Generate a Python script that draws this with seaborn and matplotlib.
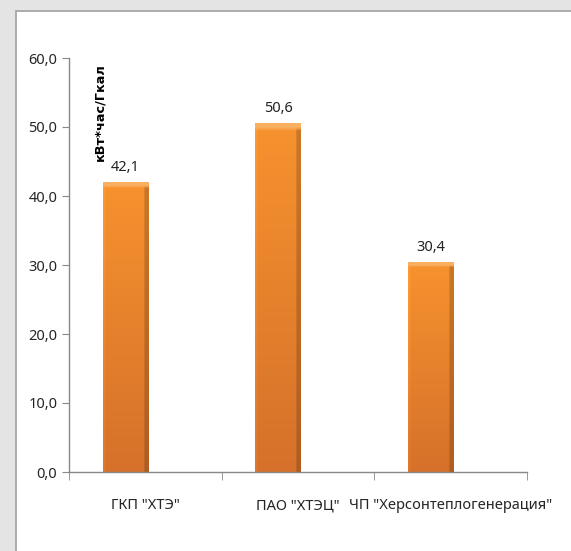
import matplotlib
matplotlib.use("Agg")
import matplotlib.pyplot as plt
import matplotlib.patches as mpatches
import matplotlib.colors as mcolors
import numpy as np
import seaborn as sns
import pandas as pd

companies = ['ГКП "ХТЭ"', 'ПАО "ХТЭЦ"', 'ЧП "Херсонтеплогенерация"']
values = [42.1, 50.6, 30.4]
unit_label = "кВт*час/Гкал"
y_ticks = [0, 10, 20, 30, 40, 50, 60]


def bar_shading(ax, patch):
    # cylinder-like shading clipped to the bar
    x0, y0 = patch.get_x(), patch.get_y()
    w, h = patch.get_width(), patch.get_height()
    top = np.array(mcolors.to_rgb("#F7922F"))
    bottom = np.array(mcolors.to_rgb("#D5712A"))
    ny, nx = 100, 40
    t = np.linspace(0, 1, ny)[:, None, None]
    img = top * (1 - t) + bottom * t
    img = np.repeat(img, nx, axis=1)
    img[:, -4:, :] *= 0.82
    img[:, :2, :] = np.minimum(img[:, :2, :] * 1.05, 1)
    img[:2, :, :] = np.array(mcolors.to_rgb("#FAB060"))
    im = ax.imshow(img, extent=[x0, x0 + w, y0, y0 + h], aspect="auto",
                   origin="upper", zorder=3, interpolation="bilinear")
    im.set_clip_path(patch)


def main():
    sns.set_style("white")
    plt.rcParams["font.family"] = ["Noto Sans", "DejaVu Sans"]

    df = pd.DataFrame({"company": companies, "value": values})

    fig = plt.figure(figsize=(5.71, 5.51), dpi=100)
    fig.patch.set_facecolor("#e4e4e4")
    # white slide panel
    panel = mpatches.Rectangle((16 / 571, -0.01), 1.0, 1 - 11 / 551 + 0.01,
                               transform=fig.transFigure, facecolor="white",
                               edgecolor="#a0a0a0", linewidth=1.2, zorder=-5)
    fig.add_artist(panel)

    ax = fig.add_axes([69 / 571, 1 - 472 / 551, (527 - 69) / 571, (472 - 58) / 551])
    ax.set_zorder(5)
    ax.set_facecolor("white")

    sns.barplot(data=df, x="company", y="value", ax=ax, color="#F0892D",
                width=0.3, edgecolor="none", linewidth=0, saturation=1)

    # bars sit a bit left of the category centre (empty second series in source)
    shift = -0.13
    for p in list(ax.patches):
        p.set_x(p.get_x() + shift)
        bar_shading(ax, p)

    for i, v in enumerate(values):
        ax.text(i + shift, v + 1.0, f"{v:.1f}".replace(".", ","), ha="center",
                va="bottom", fontsize=10.5, color="#222222")

    ax.set_ylim(0, 60)
    ax.set_xlim(-0.5, 2.5)
    ax.set_yticks(y_ticks)
    ax.set_yticklabels([f"{t:.1f}".replace(".", ",") for t in y_ticks], fontsize=10.5)
    ax.set_xticks(range(len(companies)))
    ax.set_xticklabels(companies, fontsize=10.5)
    ax.set_xticks([-0.5, 0.5, 1.5, 2.5], minor=True)
    ax.tick_params(axis="x", which="major", length=0, pad=19, bottom=True)
    ax.tick_params(axis="x", which="minor", length=6, color="#888888",
                   direction="out", bottom=True)
    ax.tick_params(axis="y", length=5, color="#888888", direction="out", left=True)
    ax.set_xlabel("")
    ax.set_ylabel("")

    for s in ["top", "right"]:
        ax.spines[s].set_visible(False)
    for s in ["left", "bottom"]:
        ax.spines[s].set_color("#888888")
        ax.spines[s].set_linewidth(1.0)
        ax.spines[s].set_zorder(4)

    ax.text(-0.295, 59.3, unit_label, rotation=90, ha="center", va="top",
            fontsize=9.3, fontweight="bold", color="black",
            family=["DejaVu Sans"])

    fig.savefig("out.png", dpi=100, facecolor=fig.get_facecolor())


if __name__ == "__main__":
    main()
